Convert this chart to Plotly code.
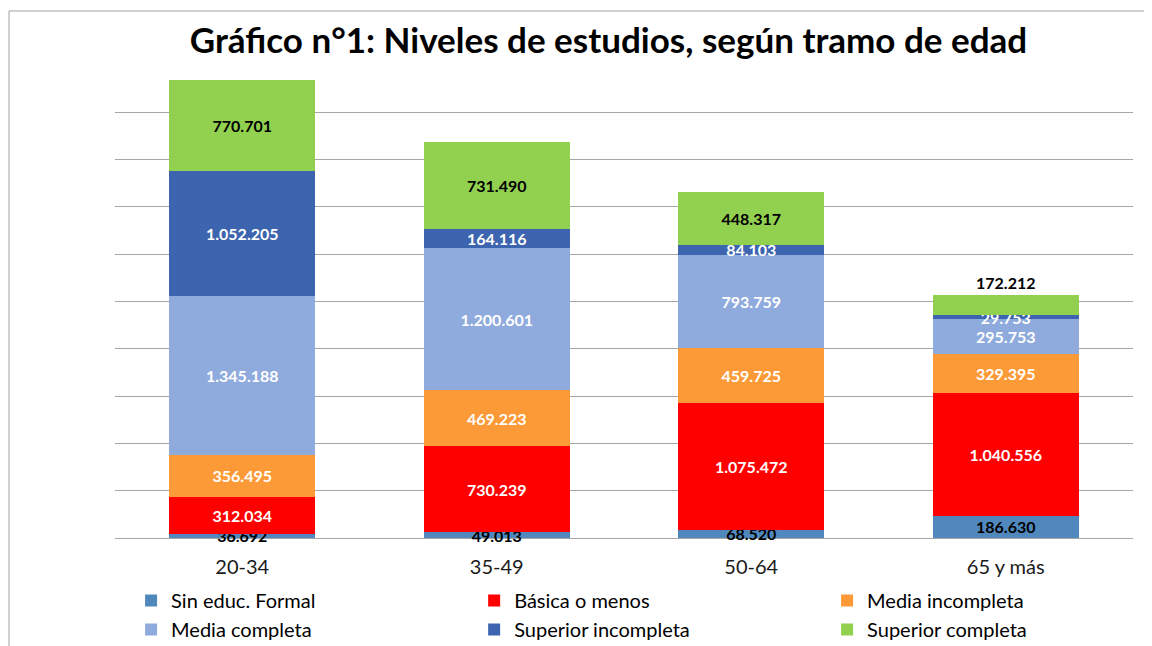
import plotly.graph_objects as go

categories = ["20-34", "35-49", "50-64", "65 y más"]
series_names = ["Sin educ. Formal", "Básica o menos", "Media incompleta",
                "Media completa", "Superior incompleta", "Superior completa"]
sin_educ = [36692, 49013, 68520, 186630]
basica = [312034, 730239, 1075472, 1040556]
media_incompleta = [356495, 469223, 459725, 329395]
media_completa = [1345188, 1200601, 793759, 295753]
superior_incompleta = [1052205, 164116, 84103, 29753]
superior_completa = [770701, 731490, 448317, 172212]

values = [sin_educ, basica, media_incompleta, media_completa,
          superior_incompleta, superior_completa]
colors = ["#5088BD", "#FF0000", "#FD9A38", "#8FAADC", "#3D64AE", "#92D050"]
text_colors = ["#000000", "#FFFFFF", "#FFFFFF", "#FFFFFF", "#FFFFFF", "#000000"]
legend_ids = ["legend", "legend2", "legend3", "legend", "legend2", "legend3"]

FONT = "Lato"

fig = go.Figure()
for i, (name, vals, col, tcol, lg) in enumerate(
        zip(series_names, values, colors, text_colors, legend_ids)):
    if i == len(series_names) - 1:
        # top series: the thin last segment's label sits above its bar
        tpos = ["inside"] * (len(vals) - 1) + ["outside"]
    else:
        tpos = "inside"
    fig.add_trace(go.Bar(
        x=categories, y=vals, name=name,
        marker=dict(color=col, line=dict(width=0)),
        texttemplate="%{y:,}",
        textposition=tpos,
        insidetextanchor="middle",
        constraintext="none",
        cliponaxis=False,
        textfont=dict(family=FONT, size=16, color=tcol, weight="bold"),
        hoverinfo="skip",
        legend=lg,
    ))

leg_common = dict(
    orientation="v", yanchor="top", xanchor="left",
    font=dict(family=FONT, size=20, color="#000000"),
    traceorder="normal", itemclick=False, tracegroupgap=0,
    bgcolor="rgba(0,0,0,0)",
)

fig.update_layout(
    barmode="stack",
    bargap=0.426,
    separators=",.",
    width=1152, height=646,
    margin=dict(l=107, r=27, t=57, b=116, autoexpand=False),
    paper_bgcolor="white", plot_bgcolor="white",
    font=dict(family=FONT, color="#000000"),
    uniformtext=dict(minsize=16, mode="show"),
    title=dict(
        text="<b>Gráfico n°1: Niveles de estudios, según tramo de edad</b>",
        x=0.5213, xanchor="center", y=0.950, yanchor="middle",
        font=dict(family=FONT, size=35, color="#000000"),
    ),
    xaxis=dict(
        showgrid=False, showline=False, zeroline=False,
        ticks="", tickfont=dict(family=FONT, size=20, color="#1a1a1a"),
        ticklabelstandoff=15,
    ),
    yaxis=dict(
        range=[0, 4000000], dtick=400000, showticklabels=False,
        showgrid=True, gridcolor="#A6A6A6", gridwidth=1,
        zeroline=True, zerolinecolor="#A6A6A6", zerolinewidth=1,
        showline=False, ticks="",
    ),
    legend=dict(x=0.0158, y=-0.0909, **leg_common),
    legend2=dict(x=0.3528, y=-0.0909, **leg_common),
    legend3=dict(x=0.6995, y=-0.0909, **leg_common),
    showlegend=True,
    shapes=[dict(
        type="rect", xref="paper", yref="paper",
        x0=-0.1041, x1=1.2, y0=-0.4, y1=1.1142,
        line=dict(color="#A0A0A0", width=1), fillcolor="rgba(0,0,0,0)",
        layer="below",
    )],
)

fig.write_html("out.html")
